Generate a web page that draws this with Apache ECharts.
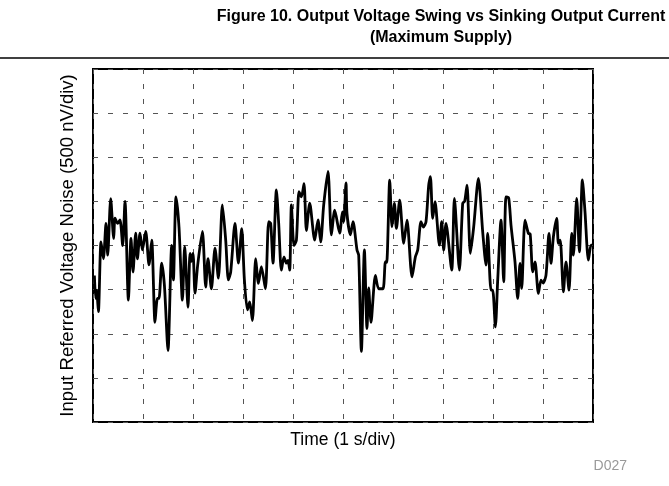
<!DOCTYPE html>
<html>
<head>
<meta charset="utf-8">
<script src="https://cdn.jsdelivr.net/npm/echarts@6/dist/echarts.min.js"></script>
<style>
html,body{margin:0;padding:0;background:#fff;}
#chart{width:669px;height:486px;}
</style>
</head>
<body>
<div id="chart"></div>
<script>
// Time in seconds (1 s/div, 10 divisions)
const timeS = [0.028,0.054,0.074,0.108,0.160,0.208,0.260,0.294,0.354,0.414,0.440,0.494,0.540,0.594,0.640,0.708,0.760,0.800,0.854,0.888,0.940,0.988,1.054,1.120,1.174,1.240,1.288,1.320,1.374,1.428,1.500,1.574,1.608,1.660,1.720,1.788,1.834,1.900,1.940,1.968,2.000,2.040,2.094,2.188,2.254,2.300,2.368,2.440,2.508,2.588,2.654,2.708,2.754,2.840,2.908,2.974,3.028,3.088,3.134,3.188,3.254,3.308,3.368,3.448,3.514,3.554,3.600,3.668,3.714,3.768,3.820,3.868,3.900,3.934,3.968,4.020,4.068,4.120,4.168,4.220,4.268,4.334,4.434,4.500,4.554,4.614,4.700,4.768,4.834,4.934,4.988,5.014,5.060,5.080,5.148,5.200,5.280,5.314,5.368,5.428,5.480,5.514,5.560,5.648,5.714,5.800,5.848,5.874,5.934,5.980,6.028,6.068,6.134,6.214,6.280,6.380,6.448,6.494,6.560,6.608,6.660,6.714,6.748,6.794,6.840,6.928,6.974,7.014,7.060,7.174,7.228,7.328,7.394,7.434,7.480,7.548,7.614,7.708,7.794,7.860,7.894,7.960,7.994,8.048,8.094,8.160,8.214,8.260,8.314,8.360,8.440,8.494,8.540,8.574,8.640,8.708,8.744,8.794,8.840,8.908,8.960,9.004,9.060,9.120,9.160,9.208,9.274,9.308,9.344,9.408,9.460,9.520,9.574,9.608,9.674,9.728,9.788,9.840,9.908,9.960,9.988];
// Input referred voltage noise in nV (500 nV/div)
const noiseNV = [-340,-600,-510,-750,40,-150,250,-110,530,80,310,250,290,0,500,-620,80,-300,140,-150,140,-50,160,-220,60,-870,-600,-600,-200,-450,-1190,0,-390,550,210,-620,-10,-700,-90,-180,-90,-540,-220,160,-470,-150,-490,-30,-370,460,60,-390,-300,250,-200,190,-390,-730,-640,-850,-150,-430,-240,-490,270,250,-200,630,250,-280,-130,-200,-170,-280,460,0,60,610,550,700,170,480,60,290,40,460,840,120,400,140,380,270,710,360,120,270,-50,-110,-1200,-50,-940,-480,-870,-340,-490,-490,-185,-190,740,212,477,194,515,24,288,-355,-128,-52,269,209,269,685,779,307,496,5,269,-52,251,-279,534,-279,477,503,685,-90,212,761,155,-222,137,-506,-506,-922,-392,288,-412,552,538,231,-185,-600,-203,-486,288,137,129,-298,-185,-543,-392,-426,-336,137,-203,99,307,24,61,-525,-185,-506,137,-109,534,-71,742,382,-166,5,5];

const xAxisName = 'Time (1 s/div)';
const yAxisName = 'Input Referred Voltage Noise (500 nV/div)';
const titleLines = ['Figure 10. Output Voltage Swing vs Sinking Output Current', '(Maximum Supply)'];
const footnote = 'D027';

const FONT = '"Liberation Sans", Arial, Helvetica, sans-serif';
const chart = echarts.init(document.getElementById('chart'), null, {renderer: 'canvas'});
const gridDash = {color: '#555', width: 1, type: [5, 10]};

chart.setOption({
  animation: false,
  backgroundColor: '#fff',
  grid: {left: 93, top: 69, width: 500, height: 353, show: true, borderColor: '#000', borderWidth: 2, backgroundColor: 'transparent', containLabel: false},
  xAxis: {
    type: 'value', min: 0, max: 10, interval: 1,
    axisLine: {show: false}, axisTick: {show: false}, axisLabel: {show: false},
    splitLine: {show: true, lineStyle: gridDash},
    name: xAxisName, nameLocation: 'middle', nameGap: 9,
    nameTextStyle: {fontFamily: FONT, fontSize: 17.5, color: '#000', verticalAlign: 'top'}
  },
  yAxis: {
    type: 'value', min: -2000, max: 2000, interval: 500,
    axisLine: {show: false}, axisTick: {show: false}, axisLabel: {show: false},
    splitLine: {show: true, lineStyle: gridDash},
    name: yAxisName, nameLocation: 'middle', nameGap: 16, nameRotate: 90,
    nameTextStyle: {fontFamily: FONT, fontSize: 18.5, color: '#000'}
  },
  series: [{
    type: 'line',
    data: timeS.map((t, i) => [t, noiseNV[i]]),
    showSymbol: false,
    smooth: 0.25,
    lineStyle: {color: '#000', width: 2.8},
    itemStyle: {color: '#000'}
  }],
  graphic: [
    {type: 'text', x: 441, y: 17, style: {text: titleLines[0], fontFamily: FONT, fontSize: 16, fontWeight: 'bold', fill: '#000', align: 'center', verticalAlign: 'middle'}},
    {type: 'text', x: 441, y: 38, style: {text: titleLines[1], fontFamily: FONT, fontSize: 16, fontWeight: 'bold', fill: '#000', align: 'center', verticalAlign: 'middle'}},
    {type: 'line', shape: {x1: 0, y1: 58, x2: 669, y2: 58}, style: {stroke: '#000', lineWidth: 1.3}},
    {type: 'text', x: 627, y: 466, style: {text: footnote, fontFamily: FONT, fontSize: 14, fill: '#999', align: 'right', verticalAlign: 'middle'}}
  ]
});
</script>
</body>
</html>
